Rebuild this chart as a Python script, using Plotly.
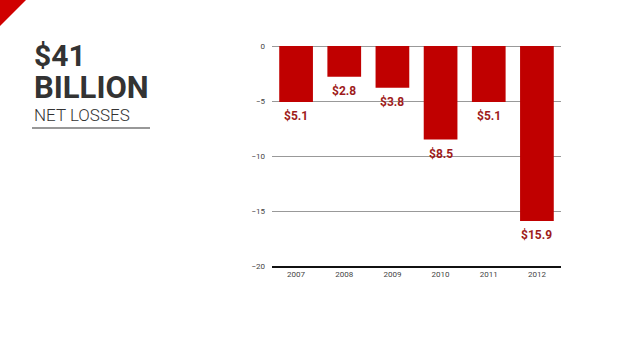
import plotly.graph_objects as go

years = ["2007", "2008", "2009", "2010", "2011", "2012"]
losses = [-5.1, -2.8, -3.8, -8.5, -5.1, -15.9]
labels = ["$5.1", "$2.8", "$3.8", "$8.5", "$5.1", "$15.9"]
y_ticks = [0, -5, -10, -15, -20]

W, H = 638, 359
# plot area in pixels
L, R, T, B = 272, 561, 46, 266
def px(x): return x / W
def py(y): return 1 - y / H

fig = go.Figure()
fig.add_trace(go.Bar(
    x=years, y=losses,
    marker=dict(color="#c00000", line=dict(width=0)),
    width=0.7, hoverinfo="x+y",
))

for i, (v, lab) in enumerate(zip(losses, labels)):
    fig.add_annotation(x=i, y=v, text=f"<b>{lab}</b>", showarrow=False,
                       yanchor="middle", yshift=-14,
                       font=dict(family="Roboto", size=12, color="#9e1b1b"))

fig.update_layout(
    width=W, height=H,
    margin=dict(l=0, r=0, t=0, b=0, autoexpand=False),
    paper_bgcolor="white", plot_bgcolor="white",
    showlegend=False,
    font=dict(family="Roboto", color="#333"),
    xaxis=dict(type="category", categoryarray=years, range=[-0.5, len(years) - 0.5],
               domain=[px(L), px(R)], showline=True, linecolor="#111",
               linewidth=1.5, ticks="", tickfont=dict(size=8, color="#444"), showgrid=False,
               automargin=False),
    yaxis=dict(domain=[py(B), py(T)], range=[-20, 0], tickvals=y_ticks, showgrid=True,
               gridcolor="#999", gridwidth=1, zeroline=True, zerolinecolor="#999",
               zerolinewidth=1, ticks="", tickfont=dict(size=8, color="#444"),
               ticklabelstandoff=6, automargin=False),
    shapes=[
        dict(type="path", xref="paper", yref="paper",
             path=f"M {px(0)} {py(0)} L {px(26)} {py(0)} L {px(0)} {py(26)} Z",
             fillcolor="#d00000", line=dict(width=0), layer="above"),
        dict(type="line", xref="paper", yref="paper",
             x0=px(32), x1=px(150), y0=py(128), y1=py(128),
             line=dict(color="#333", width=1.2)),
    ],
)

fig.add_annotation(xref="paper", yref="paper", x=px(32), y=py(72), xanchor="left", yanchor="middle",
                   align="left", showarrow=False,
                   text="<b><span style='font-size:30px'>$41</span><br>"
                        "<span style='font-size:31px'>BILLION</span></b>",
                   font=dict(family="Roboto", size=24.6, color="#333"))
fig.add_annotation(xref="paper", yref="paper", x=px(32), y=py(115), xanchor="left", yanchor="middle",
                   text="NET LOSSES", showarrow=False,
                   font=dict(family="Roboto", size=17, color="#333", weight=300))

fig.write_html("out.html", config={"displayModeBar": False},
               post_script="document.body.style.margin='0px';")
